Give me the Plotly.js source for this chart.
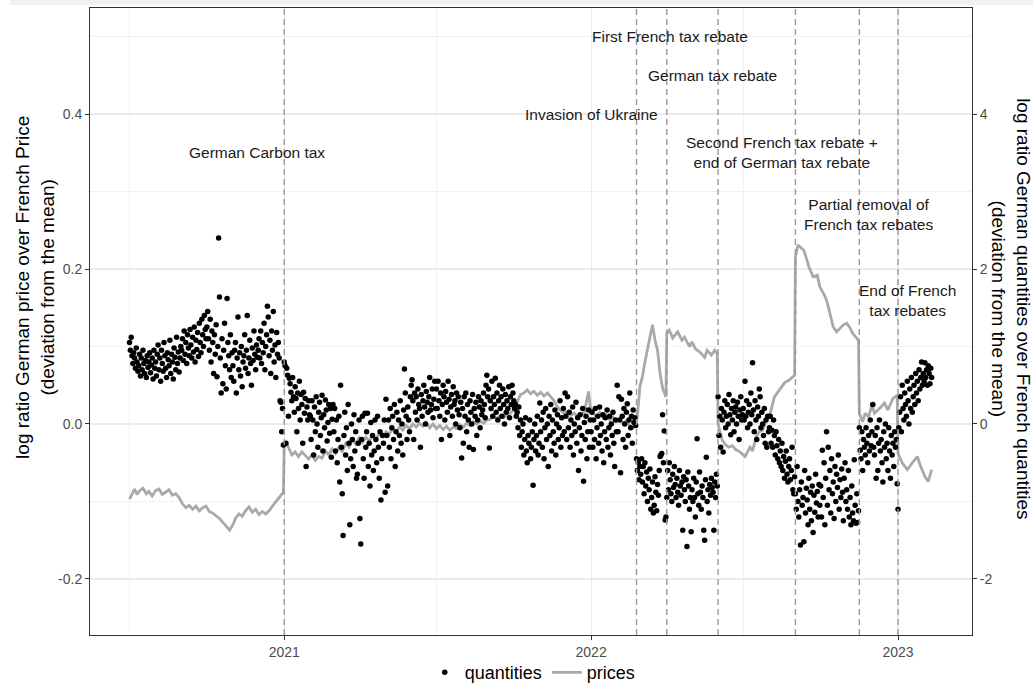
<!DOCTYPE html>
<html>
<head>
<meta charset="utf-8">
<script src="https://cdn.plot.ly/plotly-3.0.1.min.js"></script>
<style>
html,body{margin:0;padding:0;background:#fff;}
#chart{width:1033px;height:685px;}
</style>
</head>
<body>
<div id="chart"></div>
<script>
// ---------- DATA ----------
// Daily quantities (log ratio DE/FR quantities, deviation from mean) – right axis units
const q2020Start = '2020-07-01';
const q2020 = [
 1.05,0.95,1.12,0.88,0.78,0.92,0.85,0.72,0.98,0.80,0.68,0.75,0.90,0.62,0.85,0.70,0.95,0.78,0.65,0.82,0.60,0.88,0.73,0.80,0.92,0.66,0.76,0.85,0.58,0.95,0.72,
 0.80,0.62,0.90,1.02,0.70,0.85,0.55,0.95,0.78,0.68,1.05,0.88,0.72,0.60,0.92,0.83,0.75,1.08,0.65,0.90,0.80,0.58,0.98,0.86,0.70,1.12,0.78,0.93,0.67,0.85,1.00,
 0.95,1.10,0.82,1.20,0.90,1.05,0.78,1.15,0.98,0.88,1.22,1.02,0.85,1.12,0.93,1.25,0.80,1.08,0.96,1.18,0.87,1.30,1.05,0.92,1.35,1.15,1.00,1.40,1.22,1.10,
 1.25,1.45,1.10,0.95,1.35,0.80,1.20,1.05,0.65,1.15,0.90,1.28,0.61,1.00,2.40,1.64,0.85,0.40,1.10,0.52,0.95,1.30,0.75,0.45,1.62,1.05,0.88,0.70,1.15,0.60,0.92,
 0.75,0.55,0.95,1.05,0.40,0.85,1.38,0.70,0.92,0.62,1.00,0.48,0.80,0.88,1.15,0.72,0.95,1.40,0.65,0.85,1.08,0.78,0.50,0.98,0.82,1.20,0.90,0.70,1.02,0.86,
 0.95,1.10,0.85,1.20,0.78,1.05,0.92,1.30,0.70,1.00,1.15,1.52,1.38,0.88,1.08,0.65,1.20,0.95,1.45,0.80,1.02,0.60,1.18,0.90,1.05,0.85,0.30,0.28,-0.10,0.20,-0.27
];
const q2021Start = '2021-01-01';
const q2021 = [
 0.80,0.75,-0.25,0.72,0.63,0.10,0.59,0.52,0.41,0.30,0.60,0.35,0.15,0.48,0.33,-0.10,0.40,0.20,0.55,0.05,0.38,0.25,-0.25,0.41,0.14,0.33,-0.55,0.22,0.05,0.30,0.12,
 0.10,-0.20,0.30,0.05,-0.40,0.22,-0.10,0.35,0.00,-0.30,0.15,0.28,-0.15,0.08,0.37,-0.35,0.12,-0.05,0.31,0.18,-0.22,0.02,0.25,-0.12,0.20,-0.43,0.06,0.25,
 -0.10,0.20,-0.35,0.05,-0.50,-0.20,0.10,-0.75,0.50,-0.30,-0.90,-1.44,-0.15,0.15,-0.40,-0.05,-0.60,0.25,-0.25,-1.30,-0.45,0.00,-0.20,-0.55,0.12,-0.35,-0.10,-0.70,-0.65,-0.25,0.05,
 -1.22,-1.55,-0.20,0.10,-0.45,-0.70,0.14,-0.30,-0.10,0.14,-0.55,-0.25,-0.80,0.02,-0.40,-0.15,-0.60,-0.35,0.05,-0.20,-0.50,0.10,-0.30,-0.70,-0.10,-0.98,-0.45,-0.15,-0.25,0.05,
 -0.88,0.32,-0.15,-0.80,0.05,-0.30,0.20,-0.45,-0.05,0.10,-0.20,0.25,-0.55,-0.10,0.15,-0.35,0.05,-0.15,0.30,-0.25,0.00,-0.40,0.18,0.71,0.40,0.10,-0.20,0.22,0.05,-0.10,0.35,
 0.50,0.57,0.30,-0.20,0.40,0.15,0.35,0.05,0.45,0.25,0.20,-0.30,0.38,0.10,0.30,0.50,0.22,0.00,0.42,0.28,0.15,0.35,0.60,0.18,0.25,0.45,0.08,0.32,0.55,0.20,
 0.45,0.20,0.55,0.30,0.10,0.40,-0.20,0.25,0.50,0.35,0.05,0.42,0.28,0.15,0.55,0.32,-0.15,0.22,0.38,0.10,0.48,0.25,0.30,0.00,0.40,0.18,0.35,0.12,-0.05,0.28,-0.44,
 0.20,-0.25,0.35,0.10,0.40,-0.10,0.25,0.05,-0.30,0.30,0.15,0.00,0.38,-0.33,0.20,0.10,0.28,-0.15,0.05,0.35,0.22,-0.05,0.30,0.12,0.18,0.40,0.25,0.08,0.50,0.63,0.35,
 0.45,-0.31,0.30,0.20,0.55,0.10,0.35,0.25,0.59,0.15,0.40,0.05,0.30,0.50,0.20,0.35,0.10,0.45,0.25,0.00,0.38,0.15,0.30,0.20,0.48,0.08,0.35,0.25,0.50,0.40,
 0.30,0.20,0.25,0.10,0.15,-0.05,0.22,-0.15,0.05,-0.30,-0.10,0.00,-0.40,-0.20,0.08,-0.35,-0.50,-0.15,-0.25,0.05,-0.45,-0.30,-0.10,-0.79,-0.20,0.00,-0.35,-0.15,0.10,-0.40,-0.25,
 0.27,-0.10,0.05,-0.30,0.15,-0.45,-0.05,0.20,-0.20,0.00,-0.55,0.10,-0.15,0.25,-0.35,0.05,-0.10,-0.25,0.18,-0.40,0.00,0.12,-0.20,-0.05,0.30,-0.30,0.08,-0.15,0.20,-0.10,
 0.40,0.10,-0.20,0.35,-0.05,0.15,-0.30,0.05,-0.15,0.22,-0.40,0.00,-0.10,0.28,-0.25,0.08,-0.60,-0.05,0.12,-0.35,-0.15,0.20,-0.74,0.02,-0.20,0.10,-0.45,-0.10,0.18,-0.30,0.05
];
const q2022Start = '2022-01-01';
const q2022 = [
 -0.10,0.15,-0.30,0.05,-0.20,0.20,-0.45,-0.05,0.10,-0.25,0.22,-0.15,0.00,-0.35,0.12,-0.50,-0.10,0.08,-0.20,0.18,-0.30,-0.05,0.10,-0.40,0.00,-0.15,0.15,-0.25,-0.55,0.05,-0.10,
 0.50,-0.10,0.35,0.05,-0.63,0.32,0.10,-0.20,0.20,0.00,-0.30,0.15,0.26,-0.15,0.05,0.40,-0.05,0.10,-0.25,0.18,0.02,0.08,-0.02,-0.45,-0.60,-0.50,-0.72,-0.55,
 -0.65,-0.45,-0.75,-0.55,-0.90,-0.50,-0.80,-0.62,-1.00,-0.70,-0.85,-0.58,-1.10,-0.95,-0.75,-1.15,-1.05,-0.68,-0.88,-1.12,-0.78,-0.92,-0.60,-0.42,-0.40,-0.38,0.12,-0.50,-0.09,-1.24,-1.20,
 -0.95,-0.60,-0.85,-0.50,-0.72,-0.90,-1.00,-0.65,-0.82,-0.55,-0.78,-0.95,-0.70,-0.88,-1.05,-0.60,-0.80,-0.92,-0.75,-1.37,-0.68,-0.85,-1.00,-0.72,-1.58,-0.62,-0.80,-1.10,-0.95,-1.39,
 -0.85,-1.00,-0.70,-0.95,-1.20,-0.75,-0.19,-0.90,-1.05,-0.62,-0.88,-1.10,-0.80,-0.95,-1.37,-1.50,-0.72,-0.43,-1.00,-0.85,-1.15,-0.78,-0.92,-0.70,-0.82,-0.88,-1.37,-0.75,-0.95,-0.65,-0.80,
 0.35,-0.15,0.10,-0.30,0.20,0.05,-0.36,0.15,0.30,-0.05,0.10,0.25,0.00,0.38,0.12,-0.14,0.20,0.05,0.30,-0.10,0.15,0.22,0.00,0.28,0.10,-0.20,0.18,0.35,0.05,0.12,
 0.20,0.05,0.55,0.10,0.30,-0.05,0.15,0.25,0.00,0.40,0.12,0.79,0.18,-0.10,0.30,0.05,-0.20,0.22,0.10,0.45,0.35,-0.05,0.15,0.00,-0.15,0.20,-0.25,0.05,-0.30,0.10,-0.10,
 -0.05,0.10,-0.25,-0.08,-0.30,0.05,-0.15,-0.40,-0.10,-0.28,-0.45,-0.20,-0.50,-0.35,-0.55,-0.25,-0.60,-0.42,-0.70,-0.48,-0.35,-0.65,-0.75,-0.55,-0.45,-0.72,-0.60,-0.30,-0.85,-0.90,-0.68,
 -0.90,-1.10,-0.55,-1.00,-1.20,-0.85,-1.56,-0.75,-1.05,-0.95,-1.52,-0.60,-1.15,-0.83,-0.98,-1.30,-0.70,-1.10,-0.88,-1.25,-0.80,-1.40,-0.92,-1.14,-0.65,-1.02,-0.87,-1.20,-0.78,-1.05,
 -0.80,-1.20,-0.34,-0.95,-0.50,-1.30,-0.70,-0.10,-1.05,-0.30,-0.85,-0.60,-1.15,-0.45,-0.90,-0.75,-1.22,-0.55,-1.00,-0.65,-0.82,-0.40,-1.10,-0.72,-0.95,-0.58,-0.88,-1.25,-0.70,-0.50,-1.00,
 -0.85,-1.10,-0.60,-1.20,-0.95,-1.30,-0.80,-1.15,-1.25,-0.46,-1.05,-1.28,-0.90,-1.27,-1.12,-0.05,-0.34,-0.45,-0.10,-0.60,-0.20,-0.30,-0.40,-0.05,-0.25,-0.50,-0.15,-0.35,0.05,-0.28,
 -0.10,0.25,-0.30,-0.40,-0.15,-0.70,-0.05,-0.60,-0.25,0.05,-0.35,-0.20,-0.50,-0.75,-0.10,-0.30,0.00,-0.45,-0.25,-0.60,-0.05,-0.35,-0.70,-0.15,-0.40,-0.25,-0.55,-0.10,-0.30,-0.20,-0.77
];
const q2023Start = '2023-01-01';
const q2023 = [
 -1.10,-0.05,0.15,0.35,-0.10,0.50,0.20,0.05,0.40,0.25,0.10,0.55,0.30,0.00,0.45,0.20,0.60,0.15,0.35,0.50,0.25,0.65,0.40,0.55,0.30,0.70,0.45,0.60,0.80,0.50,0.65,
 0.55,0.79,0.60,0.70,0.50,0.75,0.65,0.52,0.72,0.60
];

// Prices (log ratio DE/FR price, deviation from mean) – left axis units
const priceDates = [
 '2020-07-01','2020-07-04','2020-07-07','2020-07-10','2020-07-13','2020-07-17','2020-07-21','2020-07-24','2020-07-28',
 '2020-08-01','2020-08-05','2020-08-09','2020-08-13','2020-08-17','2020-08-21','2020-08-25','2020-08-29',
 '2020-09-02','2020-09-06','2020-09-10','2020-09-14','2020-09-18','2020-09-22','2020-09-26','2020-09-30',
 '2020-10-04','2020-10-08','2020-10-12','2020-10-16','2020-10-20','2020-10-24','2020-10-28',
 '2020-11-01','2020-11-04','2020-11-08','2020-11-12','2020-11-16','2020-11-20','2020-11-24','2020-11-28',
 '2020-12-02','2020-12-06','2020-12-10','2020-12-14','2020-12-18','2020-12-22','2020-12-26','2020-12-31',
 '2021-01-01','2021-01-03','2021-01-06','2021-01-10','2021-01-14','2021-01-18','2021-01-22','2021-01-26','2021-01-30',
 '2021-02-03','2021-02-07','2021-02-11','2021-02-15','2021-02-19','2021-02-23','2021-02-27',
 '2021-03-03','2021-03-07','2021-03-11','2021-03-15','2021-03-19','2021-03-23','2021-03-27','2021-03-31',
 '2021-04-04','2021-04-08','2021-04-12','2021-04-16','2021-04-20','2021-04-24','2021-04-28',
 '2021-05-02','2021-05-06','2021-05-10','2021-05-14','2021-05-18','2021-05-22','2021-05-26','2021-05-30',
 '2021-06-03','2021-06-07','2021-06-11','2021-06-15','2021-06-19','2021-06-23','2021-06-27',
 '2021-07-01','2021-07-05','2021-07-09','2021-07-13','2021-07-17','2021-07-21','2021-07-25','2021-07-29',
 '2021-08-02','2021-08-06','2021-08-10','2021-08-14','2021-08-18','2021-08-22','2021-08-26','2021-08-30',
 '2021-09-03','2021-09-07','2021-09-11','2021-09-15','2021-09-19','2021-09-23','2021-09-27',
 '2021-10-01','2021-10-05','2021-10-09','2021-10-13','2021-10-17','2021-10-21','2021-10-25','2021-10-29',
 '2021-11-02','2021-11-06','2021-11-10','2021-11-14','2021-11-18','2021-11-22','2021-11-26','2021-11-30',
 '2021-12-04','2021-12-08','2021-12-12','2021-12-16','2021-12-20','2021-12-24','2021-12-27','2021-12-29','2021-12-31',
 '2022-01-03','2022-01-07','2022-01-11','2022-01-15','2022-01-19','2022-01-23','2022-01-27','2022-01-31',
 '2022-02-04','2022-02-08','2022-02-12','2022-02-16','2022-02-20','2022-02-23','2022-02-25','2022-02-28',
 '2022-03-03','2022-03-06','2022-03-09','2022-03-12','2022-03-15','2022-03-18','2022-03-21','2022-03-24','2022-03-27','2022-03-31',
 '2022-04-01','2022-04-04','2022-04-08','2022-04-14','2022-04-19','2022-04-22','2022-04-28',
 '2022-05-01','2022-05-05','2022-05-10','2022-05-16','2022-05-19','2022-05-24','2022-05-28','2022-05-31',
 '2022-06-01','2022-06-03','2022-06-06','2022-06-10','2022-06-14','2022-06-18','2022-06-22','2022-06-27',
 '2022-07-03','2022-07-06','2022-07-09','2022-07-12','2022-07-16','2022-07-20','2022-07-24','2022-07-28',
 '2022-08-02','2022-08-07','2022-08-13','2022-08-19','2022-08-25','2022-08-31',
 '2022-09-01','2022-09-04','2022-09-07','2022-09-11','2022-09-14','2022-09-17','2022-09-22','2022-09-27','2022-09-30',
 '2022-10-03','2022-10-06','2022-10-09','2022-10-12','2022-10-16','2022-10-20','2022-10-24','2022-10-28',
 '2022-11-01','2022-11-05','2022-11-08','2022-11-13','2022-11-15','2022-11-16','2022-11-20','2022-11-23','2022-11-27',
 '2022-12-01','2022-12-04','2022-12-10','2022-12-16','2022-12-20','2022-12-26','2022-12-31',
 '2023-01-01','2023-01-06','2023-01-12','2023-01-18','2023-01-24','2023-01-28','2023-02-02','2023-02-06','2023-02-10'
];
const priceValues = [
 -0.097,-0.090,-0.084,-0.091,-0.086,-0.083,-0.090,-0.087,-0.093,
 -0.086,-0.084,-0.091,-0.088,-0.085,-0.092,-0.090,-0.095,
 -0.103,-0.108,-0.105,-0.110,-0.106,-0.112,-0.108,-0.106,
 -0.113,-0.115,-0.118,-0.122,-0.127,-0.132,-0.137,
 -0.130,-0.122,-0.116,-0.119,-0.112,-0.107,-0.114,-0.110,
 -0.117,-0.113,-0.116,-0.112,-0.106,-0.100,-0.094,-0.088,
 -0.030,-0.023,-0.030,-0.040,-0.036,-0.042,-0.036,-0.040,-0.045,
 -0.040,-0.047,-0.042,-0.044,-0.035,-0.040,-0.032,
 -0.038,-0.030,-0.036,-0.025,-0.030,-0.020,-0.026,-0.018,
 -0.024,-0.017,-0.022,-0.015,-0.020,-0.012,-0.016,
 -0.010,-0.013,-0.006,-0.010,-0.004,-0.008,-0.002,-0.006,
 0.000,-0.004,0.001,-0.003,0.002,-0.005,0.000,
 -0.006,-0.002,-0.007,-0.003,-0.008,-0.004,-0.006,-0.001,
 -0.004,0.001,-0.002,0.003,0.000,0.004,0.001,0.005,
 0.006,0.010,0.007,0.011,0.008,0.012,0.014,
 0.018,0.028,0.038,0.040,0.044,0.039,0.042,0.037,
 0.041,0.036,0.040,0.035,0.030,0.022,0.017,0.014,
 0.016,0.011,0.014,0.009,0.012,0.015,0.032,0.042,0.022,
 0.014,0.010,0.015,0.008,0.012,0.005,0.009,0.003,
 0.006,0.001,0.004,-0.002,-0.005,-0.002,0.010,0.048,
 0.061,0.080,0.095,0.112,0.128,0.108,0.095,0.065,0.046,0.035,
 0.117,0.121,0.111,0.119,0.108,0.112,0.100,
 0.106,0.097,0.093,0.086,0.095,0.089,0.095,0.091,
 0.000,-0.008,-0.021,-0.027,-0.030,-0.028,-0.033,-0.036,
 -0.042,-0.036,-0.030,-0.035,-0.017,-0.010,-0.008,0.004,
 0.014,0.035,0.044,0.053,0.057,0.063,
 0.216,0.231,0.228,0.224,0.214,0.203,0.190,0.192,0.177,
 0.171,0.165,0.156,0.143,0.125,0.119,0.124,0.128,
 0.130,0.124,0.117,0.111,0.108,0.014,0.003,0.014,0.009,
 0.025,0.014,0.020,0.027,0.018,0.033,0.037,
 -0.038,-0.050,-0.059,-0.050,-0.042,-0.055,-0.068,-0.074,-0.059
];

// Policy events (vertical dashed lines)
const eventDates = ['2021-01-01','2022-02-24','2022-04-01','2022-06-01','2022-09-01','2022-11-16','2023-01-01'];

// Event labels (date, level on the price axis)
const labelTexts = [
 'German Carbon tax',
 'Invasion of Ukraine',
 'First French tax rebate',
 'German tax rebate',
 'Second French tax rebate +<br>end of German tax rebate',
 'Partial removal of<br>French tax rebates',
 'End of French<br>tax rebates'
];
const labelDates = ['2020-11-30','2022-01-01','2022-04-05','2022-05-25','2022-08-16','2022-11-27','2023-01-12'];
const labelLevels = [0.35, 0.40, 0.50, 0.45, 0.35, 0.27, 0.16];

const xTickVals = ['2021-01-01','2022-01-01','2023-01-01'];
const xTickText = ['2021','2022','2023'];
const xMinorVals = ['2020-07-01','2021-07-01','2022-07-01'];
const yTickVals = [-0.2, 0, 0.2, 0.4];
const yTickText = ['-0.2','0.0','0.2','0.4'];
const yMinorVals = [-0.1, 0.1, 0.3, 0.5];
const y2TickVals = [-2, 0, 2, 4];
const y2TickText = ['-2','0','2','4'];

// ---------- BUILD ----------
function dailyDates(start, n) {
  const out = [];
  const d0 = new Date(start + 'T00:00:00Z');
  for (let i = 0; i < n; i++) {
    const d = new Date(d0.getTime() + i * 86400000);
    out.push(d.toISOString().slice(0, 10));
  }
  return out;
}
const qX = [].concat(
  dailyDates(q2020Start, q2020.length),
  dailyDates(q2021Start, q2021.length),
  dailyDates(q2022Start, q2022.length),
  dailyDates(q2023Start, q2023.length)
);
const qY = [].concat(q2020, q2021, q2022, q2023);

const FONT = 'Liberation Sans, Arial, Helvetica, sans-serif';
const yRange = [-0.2723, 0.5368];

const traces = [
  {
    type: 'scatter', mode: 'lines', name: 'prices',
    x: priceDates, y: priceValues, xaxis: 'x', yaxis: 'y',
    line: {color: '#a9a9a9', width: 2.8}, legendrank: 2, hoverinfo: 'skip'
  },
  {
    type: 'scatter', mode: 'markers', name: 'quantities',
    x: qX, y: qY, xaxis: 'x', yaxis: 'y2',
    marker: {color: '#000000', size: 5.5}, legendrank: 1, hoverinfo: 'skip'
  }
];

const shapes = eventDates.map(d => ({
  type: 'line', xref: 'x', yref: 'paper', x0: d, x1: d, y0: 0, y1: 1,
  line: {color: '#9a9a9a', width: 1.4, dash: '6px,4px'}, layer: 'above'
}));
shapes.push({
  type: 'rect', xref: 'paper', yref: 'paper', x0: -0.0907, x1: 1.08, y0: 1.0048, y1: 1.03,
  line: {width: 0}, fillcolor: '#f1f1f1', layer: 'below'
});

const annotations = labelTexts.map((t, i) => ({
  text: t, x: labelDates[i], y: labelLevels[i], xref: 'x', yref: 'y',
  showarrow: false, xanchor: 'center', yanchor: 'middle', align: 'center',
  font: {family: FONT, size: 15.5, color: '#1a1a1a'}
}));
annotations.push({
  text: 'log ratio German price over French Price<br>(deviation from the mean)',
  xref: 'paper', yref: 'paper', x: -0.0625, y: 0.555, textangle: -90,
  showarrow: false, xanchor: 'center', yanchor: 'middle', align: 'center',
  font: {family: FONT, size: 19, color: '#000'}
});
annotations.push({
  text: 'log ratio German quantities over French quantities<br>(deviation from the mean)',
  xref: 'paper', yref: 'paper', x: 1.044, y: 0.52, textangle: 90,
  showarrow: false, xanchor: 'center', yanchor: 'middle', align: 'center',
  font: {family: FONT, size: 19, color: '#000'}
});

const layout = {
  width: 1033, height: 685,
  margin: {l: 90, r: 61, t: 8, b: 50, autoexpand: false},
  paper_bgcolor: '#ffffff', plot_bgcolor: '#ffffff',
  font: {family: FONT, color: '#4d4d4d'},
  showlegend: true,
  legend: {
    orientation: 'h', x: 0.502, xanchor: 'center', y: -0.06, yanchor: 'middle',
    font: {family: FONT, size: 18, color: '#000'}, bgcolor: 'rgba(0,0,0,0)'
  },
  xaxis: {
    type: 'date', range: ['2020-05-15', '2023-03-30'],
    tickmode: 'array', tickvals: xTickVals, ticktext: xTickText,
    ticks: 'outside', ticklen: 4, tickcolor: '#333333', tickwidth: 1,
    tickfont: {family: FONT, size: 14, color: '#4d4d4d'},
    showgrid: true, gridcolor: '#ebebeb', gridwidth: 1.1,
    minor: {tickmode: 'array', tickvals: xMinorVals, showgrid: true, gridcolor: '#ebebeb', gridwidth: 0.7, ticks: ''},
    showline: true, mirror: true, linecolor: '#333333', linewidth: 1,
    zeroline: false
  },
  yaxis: {
    range: yRange,
    tickmode: 'array', tickvals: yTickVals, ticktext: yTickText,
    ticks: 'outside', ticklen: 4, tickcolor: '#333333', tickwidth: 1,
    tickfont: {family: FONT, size: 14, color: '#4d4d4d'},
    showgrid: true, gridcolor: '#ebebeb', gridwidth: 1.1,
    minor: {tickmode: 'array', tickvals: yMinorVals, showgrid: true, gridcolor: '#ebebeb', gridwidth: 0.7, ticks: ''},
    showline: true, mirror: true, linecolor: '#333333', linewidth: 1,
    zeroline: false
  },
  yaxis2: {
    overlaying: 'y', side: 'right',
    range: [yRange[0] * 10, yRange[1] * 10],
    tickmode: 'array', tickvals: y2TickVals, ticktext: y2TickText,
    ticks: 'outside', ticklen: 4, tickcolor: '#333333', tickwidth: 1,
    tickfont: {family: FONT, size: 14, color: '#4d4d4d'},
    showgrid: false, zeroline: false, showline: false
  },
  shapes: shapes,
  annotations: annotations
};

Plotly.newPlot('chart', traces, layout, {displayModeBar: false, staticPlot: true});
</script>
</body>
</html>
